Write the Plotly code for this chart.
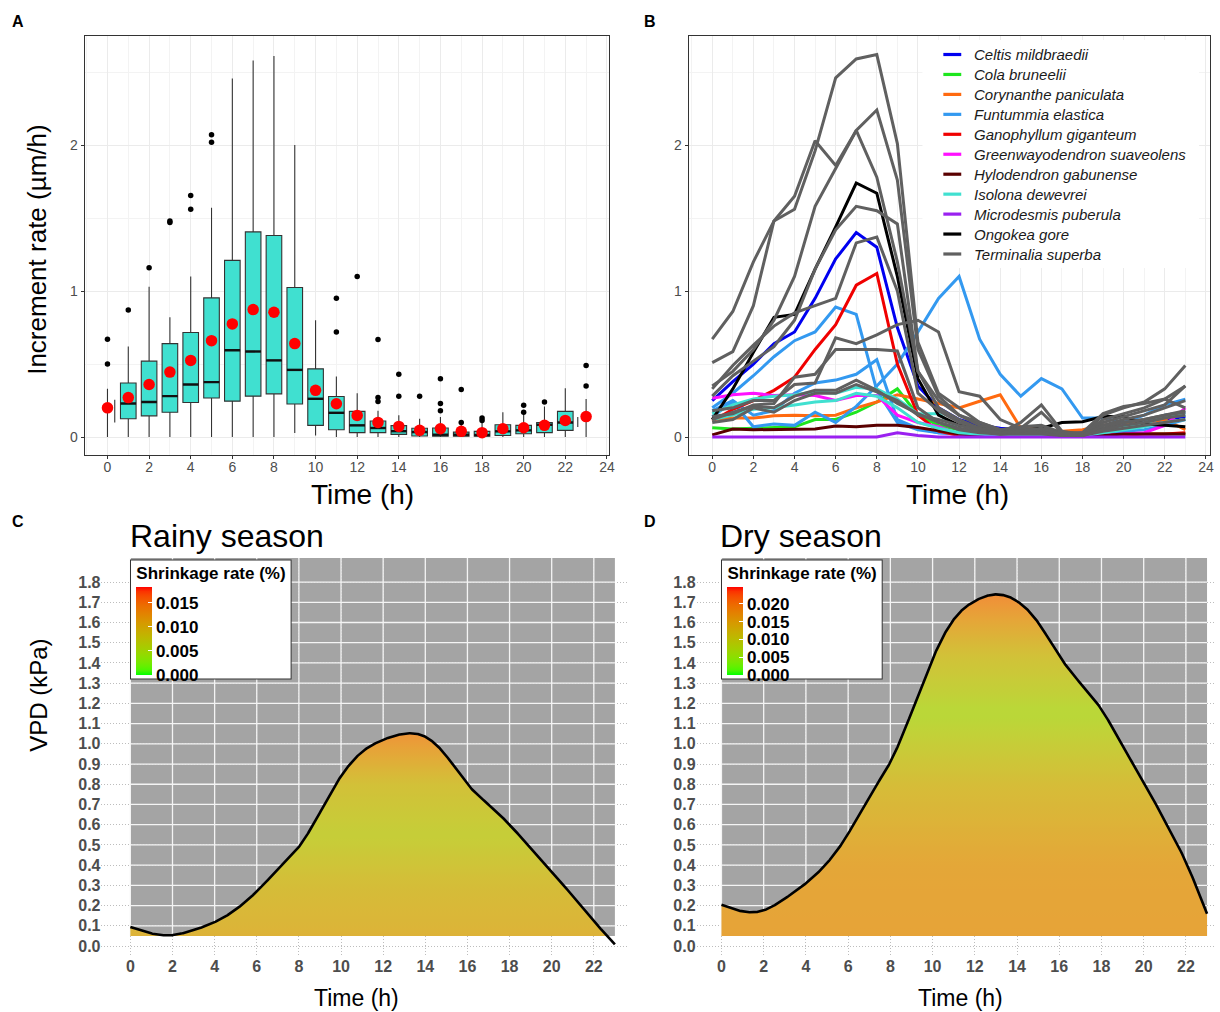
import numpy as np
import plotly.graph_objects as go

W, H = 1220, 1012
FONT = "Liberation Sans, Arial, Helvetica, sans-serif"

# ====================== Panel A : boxplots ======================
hours = list(range(24))
box_hours = list(range(1, 23))
box_q1 = [0.125, 0.145, 0.17, 0.237, 0.267, 0.246, 0.28, 0.296, 0.226, 0.08, 0.05, 0.03,
          0.03, 0.018, 0.007, 0.005, 0.005, 0.005, 0.011, 0.023, 0.03, 0.046]
box_median = [0.23, 0.24, 0.28, 0.36, 0.376, 0.595, 0.586, 0.525, 0.46, 0.262, 0.166, 0.08,
              0.062, 0.04, 0.034, 0.016, 0.016, 0.014, 0.039, 0.046, 0.084, 0.10]
box_q3 = [0.37, 0.52, 0.64, 0.716, 0.953, 1.21, 1.405, 1.38, 1.024, 0.467, 0.278, 0.176,
          0.11, 0.078, 0.06, 0.062, 0.034, 0.039, 0.084, 0.08, 0.10, 0.176]
box_low = [0, 0, 0, 0, 0, 0, 0, 0, 0.027, 0.011, 0, 0, 0, 0, 0, 0, 0, 0, 0, 0, 0, 0]
box_high = [0.62, 1.03, 0.82, 1.10, 1.57, 2.456, 2.58, 2.61, 2.0, 0.80, 0.415, 0.30,
            0.18, 0.15, 0.125, 0.137, 0.10, 0.11, 0.17, 0.16, 0.21, 0.335]
hour_means = [0.20, 0.27, 0.36, 0.445, 0.525, 0.66, 0.775, 0.873, 0.855, 0.64, 0.32, 0.228,
              0.148, 0.10, 0.073, 0.046, 0.057, 0.039, 0.03, 0.057, 0.064, 0.08, 0.114, 0.14]
out_hours = [0, 0, 1, 2, 3, 3, 4, 4, 5, 5, 11, 11, 12, 13, 13, 13, 14, 14, 15, 16, 16, 16,
             17, 17, 18, 18, 20, 20, 21, 23, 23]
out_values = [0.67, 0.50, 0.87, 1.16, 1.48, 1.47, 1.655, 1.56, 2.07, 2.02, 0.95, 0.72, 1.10,
              0.668, 0.27, 0.244, 0.43, 0.28, 0.28, 0.40, 0.23, 0.18, 0.326, 0.10, 0.13,
              0.114, 0.217, 0.17, 0.24, 0.49, 0.35]
# hours 0 and 23: collapsed boxes
edge_hours = [0, 23]
edge_low = [0.0, 0.0]
edge_high = [0.33, 0.26]
edge_q1 = [0.10, 0.068]
edge_q3 = [0.255, 0.137]

# ====================== Panel B : species lines ======================
celtis = [0.25, 0.38, 0.50, 0.64, 0.72, 0.95, 1.22, 1.40, 1.30, 0.75, 0.35, 0.20, 0.12, 0.08,
          0.06, 0.05, 0.04, 0.03, 0.03, 0.05, 0.08, 0.10, 0.12, 0.14]
cola = [0.064, 0.055, 0.06, 0.065, 0.07, 0.12, 0.12, 0.17, 0.24, 0.33, 0.15, 0.08, 0.05, 0.03,
        0.02, 0.02, 0.01, 0.01, 0.01, 0.01, 0.02, 0.02, 0.02, 0.02]
corynanthe = [0.12, 0.13, 0.13, 0.145, 0.15, 0.145, 0.15, 0.20, 0.24, 0.29, 0.26, 0.23, 0.20,
              0.245, 0.29, 0.06, 0.05, 0.04, 0.05, 0.08, 0.10, 0.10, 0.12, 0.05]
funtummia_1 = [0.20, 0.30, 0.42, 0.55, 0.66, 0.72, 0.89, 0.84, 0.32, 0.10, 0.05, 0.03, 0.02,
               0.02, 0.02, 0.01, 0.01, 0.01, 0.02, 0.05, 0.07, 0.10, 0.15, 0.17]
funtummia_2 = [0.18, 0.25, 0.15, 0.18, 0.30, 0.37, 0.39, 0.43, 0.53, 0.12, 0.06, 0.03, 0.02,
               0.02, 0.01, 0.01, 0.01, 0.01, 0.01, 0.03, 0.04, 0.05, 0.08, 0.12]
funtummia_3 = [0.14, 0.24, 0.07, 0.09, 0.08, 0.17, 0.10, 0.21, 0.35, 0.50, 0.72, 0.95, 1.10,
               0.67, 0.43, 0.28, 0.40, 0.33, 0.13, 0.13, 0.10, 0.15, 0.22, 0.26]
ganophyllum = [0.11, 0.19, 0.25, 0.32, 0.41, 0.60, 0.77, 1.04, 1.12, 0.50, 0.15, 0.04, 0.01,
               0.01, 0.01, 0.01, 0.01, 0.01, 0.01, 0.01, 0.01, 0.02, 0.02, 0.03]
greenwayodendron = [0.265, 0.29, 0.30, 0.285, 0.29, 0.285, 0.25, 0.285, 0.285, 0.15, 0.10,
                    0.07, 0.02, 0.01, 0.01, 0.01, 0.01, 0.01, 0.01, 0.01, 0.02, 0.03, 0.08, 0.20]
hylodendron = [0.015, 0.055, 0.05, 0.05, 0.05, 0.055, 0.075, 0.07, 0.08, 0.08, 0.065, 0.04,
               0.02, 0.01, 0.01, 0.01, 0.01, 0.01, 0.01, 0.01, 0.02, 0.02, 0.02, 0.02]
isolona_1 = [0.16, 0.22, 0.26, 0.28, 0.29, 0.31, 0.30, 0.34, 0.33, 0.26, 0.16, 0.16, 0.05,
             0.03, 0.02, 0.02, 0.02, 0.01, 0.01, 0.03, 0.05, 0.07, 0.10, 0.12]
isolona_2 = [0.12, 0.15, 0.19, 0.20, 0.22, 0.24, 0.25, 0.30, 0.28, 0.20, 0.10, 0.06, 0.03,
             0.02, 0.01, 0.01, 0.01, 0.01, 0.02, 0.06, 0.07, 0.09, 0.14, 0.15]
microdesmis = [0.0, 0.0, 0.0, 0.0, 0.0, 0.0, 0.005, 0.0, 0.0, 0.03, 0.01, 0.0, 0.0, 0.0, 0.0,
               0.0, 0.0, 0.0, 0.0, 0.0, 0.0, 0.0, 0.0, 0.0]
ongokea = [0.12, 0.33, 0.58, 0.82, 0.84, 1.15, 1.44, 1.74, 1.67, 1.10, 0.40, 0.15, 0.08, 0.06,
           0.05, 0.05, 0.06, 0.10, 0.105, 0.14, 0.14, 0.09, 0.08, 0.07]
terminalia_1 = [0.67, 0.86, 1.20, 1.48, 1.56, 1.96, 2.46, 2.59, 2.62, 2.01, 0.65, 0.30, 0.20,
                0.10, 0.05, 0.07, 0.08, 0.03, 0.02, 0.08, 0.12, 0.15, 0.20, 0.25]
terminalia_2 = [0.35, 0.45, 0.60, 0.80, 1.10, 1.58, 1.84, 2.10, 2.24, 1.76, 0.60, 0.28, 0.15,
                0.08, 0.04, 0.05, 0.05, 0.02, 0.02, 0.10, 0.14, 0.18, 0.22, 0.35]
terminalia_3 = [0.51, 0.585, 0.90, 1.48, 1.65, 2.03, 1.86, 2.10, 1.78, 1.20, 0.45, 0.20, 0.12,
                0.06, 0.03, 0.10, 0.22, 0.04, 0.02, 0.15, 0.20, 0.24, 0.33, 0.49]
terminalia_4 = [0.28, 0.42, 0.52, 0.62, 0.80, 1.15, 1.42, 1.58, 1.55, 1.46, 0.45, 0.25, 0.15,
                0.10, 0.05, 0.06, 0.17, 0.03, 0.02, 0.12, 0.16, 0.20, 0.26, 0.20]
terminalia_5 = [0.33, 0.49, 0.63, 0.76, 0.85, 0.90, 0.95, 1.33, 1.37, 1.00, 0.30, 0.18, 0.10,
                0.06, 0.03, 0.04, 0.05, 0.02, 0.02, 0.06, 0.10, 0.12, 0.15, 0.18]
terminalia_6 = [0.14, 0.16, 0.22, 0.23, 0.41, 0.43, 0.60, 0.60, 0.60, 0.59, 0.20, 0.10, 0.06,
                0.04, 0.02, 0.03, 0.04, 0.01, 0.01, 0.04, 0.06, 0.08, 0.10, 0.12]
terminalia_7 = [0.18, 0.20, 0.25, 0.25, 0.36, 0.37, 0.68, 0.64, 0.70, 0.77, 0.80, 0.72, 0.31,
                0.28, 0.12, 0.06, 0.05, 0.03, 0.03, 0.16, 0.21, 0.23, 0.26, 0.35]
terminalia_8 = [0.12, 0.17, 0.21, 0.20, 0.28, 0.32, 0.32, 0.39, 0.32, 0.23, 0.16, 0.10, 0.05,
                0.03, 0.02, 0.02, 0.02, 0.01, 0.01, 0.05, 0.08, 0.10, 0.13, 0.15]
terminalia_9 = [0.10, 0.12, 0.20, 0.17, 0.25, 0.30, 0.30, 0.36, 0.31, 0.25, 0.15, 0.12, 0.08,
                0.05, 0.03, 0.04, 0.06, 0.02, 0.01, 0.08, 0.10, 0.12, 0.15, 0.17]

species = ["Celtis mildbraedii", "Cola bruneelii", "Corynanthe paniculata", "Funtummia elastica",
           "Ganophyllum giganteum", "Greenwayodendron suaveolens", "Hylodendron gabunense",
           "Isolona dewevrei", "Microdesmis puberula", "Ongokea gore", "Terminalia superba"]
species_colors = ["#0000F0", "#1EE61E", "#FF6A10", "#3399F0", "#F00000", "#FF10FF", "#5A0000",
                  "#40E0D0", "#9A20F0", "#000000", "#606060"]
species_lines = [[celtis], [cola], [corynanthe], [funtummia_1, funtummia_2, funtummia_3],
                 [ganophyllum], [greenwayodendron], [hylodendron], [isolona_1, isolona_2],
                 [microdesmis], [ongokea],
                 [terminalia_1, terminalia_2, terminalia_3, terminalia_4, terminalia_5,
                  terminalia_6, terminalia_7, terminalia_8, terminalia_9]]

# ====================== Panels C & D : VPD ======================
vpd_rainy = [0.094, 0.062, 0.054, 0.079, 0.118, 0.18, 0.27, 0.378, 0.49, 0.66, 0.84, 0.96,
             1.02, 1.05, 1.035, 0.94, 0.80, 0.70, 0.60, 0.485, 0.37, 0.246, 0.123, 0.008]
vpd_dry = [0.204, 0.171, 0.176, 0.234, 0.31, 0.41, 0.555, 0.74, 0.91, 1.155, 1.42, 1.615,
           1.706, 1.739, 1.706, 1.60, 1.435, 1.30, 1.17, 0.99, 0.81, 0.62, 0.415, 0.16]
rainy_vpd_knots = [0.05, 0.30, 0.55, 0.80, 1.05]
rainy_rate_knots = [0.0105, 0.0092, 0.0070, 0.0088, 0.0138]
dry_vpd_knots = [0.05, 0.40, 0.80, 1.15, 1.45, 1.74]
dry_rate_knots = [0.0165, 0.0160, 0.0125, 0.0075, 0.0120, 0.0195]
rainy_rate_max = 0.0183
dry_rate_max = 0.0247
rainy_cb_ticks = [0.000, 0.005, 0.010, 0.015]
dry_cb_ticks = [0.000, 0.005, 0.010, 0.015, 0.020]
cd_yticks = [round(0.1 * i, 1) for i in range(19)]
cd_xticks = list(range(0, 23, 2))

# ---------------------------------------------------------------
def dom_x(a, b):
    return [a / W, b / W]


def dom_y(top, bottom):
    return [1 - bottom / H, 1 - top / H]


M_RGB2XYZ = np.array([[0.4124564, 0.3575761, 0.1804375],
                      [0.2126729, 0.7151522, 0.0721750],
                      [0.0193339, 0.1191920, 0.9503041]])
WHITE = np.array([0.95047, 1.0, 1.08883])


def rgb2lab(rgb):
    c = np.array(rgb, float) / 255.0
    c = np.where(c <= 0.04045, c / 12.92, ((c + 0.055) / 1.055) ** 2.4)
    xyz = M_RGB2XYZ @ c / WHITE
    d = 6 / 29
    f = np.where(xyz > d ** 3, np.cbrt(xyz), xyz / (3 * d * d) + 4 / 29)
    return np.array([116 * f[1] - 16, 500 * (f[0] - f[1]), 200 * (f[1] - f[2])])


def lab2rgb(lab):
    L, a, b = lab
    fy = (L + 16) / 116
    f = np.array([fy + a / 500, fy, fy - b / 200])
    d = 6 / 29
    xyz = np.where(f > d, f ** 3, 3 * d * d * (f - 4 / 29)) * WHITE
    c = np.linalg.inv(M_RGB2XYZ) @ xyz
    c = np.clip(c, 0, 1)
    c = np.where(c <= 0.0031308, 12.92 * c, 1.055 * c ** (1 / 2.4) - 0.055)
    return np.clip(c * 255, 0, 255)


LAB_LOW = rgb2lab([0, 255, 0])
LAB_HIGH = rgb2lab([255, 0, 0])


def grad_color(t, lighten=0.0):
    t = float(np.clip(t, 0, 1))
    rgb = lab2rgb(LAB_LOW + t * (LAB_HIGH - LAB_LOW))
    rgb = rgb * (1 - lighten) + 255 * lighten
    return "rgb(%d,%d,%d)" % tuple(np.round(rgb).astype(int))


CB_SCALE = [[t, grad_color(t)] for t in np.linspace(0, 1, 21)]


def nat_spline(xk, yk, xs):
    xk = np.asarray(xk, float)
    yk = np.asarray(yk, float)
    n = len(xk)
    h = np.diff(xk)
    A = np.zeros((n, n))
    r = np.zeros(n)
    A[0, 0] = A[-1, -1] = 1
    for i in range(1, n - 1):
        A[i, i - 1] = h[i - 1]
        A[i, i] = 2 * (h[i - 1] + h[i])
        A[i, i + 1] = h[i]
        r[i] = 3 * ((yk[i + 1] - yk[i]) / h[i] - (yk[i] - yk[i - 1]) / h[i - 1])
    c = np.linalg.solve(A, r)
    b = (yk[1:] - yk[:-1]) / h - h * (2 * c[:-1] + c[1:]) / 3
    d = (c[1:] - c[:-1]) / (3 * h)
    idx = np.clip(np.searchsorted(xk, xs, side="right") - 1, 0, n - 2)
    dx = xs - xk[idx]
    return yk[idx] + b[idx] * dx + c[idx] * dx ** 2 + d[idx] * dx ** 3


fig = go.Figure()

# ---------------- Panel A traces ----------------
BOX_W = 0.75
fig.add_trace(go.Box(
    x=box_hours, q1=box_q1, median=box_median, q3=box_q3,
    lowerfence=box_low, upperfence=box_high, width=BOX_W,
    boxpoints=False, whiskerwidth=0, fillcolor="#40E0D0",
    line=dict(color="#333333", width=1.1), xaxis="x", yaxis="y",
    showlegend=False, hoverinfo="skip"))
mx, my = [], []
for h, m in zip(box_hours, box_median):
    mx += [h - BOX_W / 2, h + BOX_W / 2, None]
    my += [m, m, None]
fig.add_trace(go.Scatter(x=mx, y=my, mode="lines", line=dict(color="#111111", width=2.4),
                         xaxis="x", yaxis="y", showlegend=False, hoverinfo="skip"))
EDGE_SHIFT = [0.35, -0.4]
ex, ey = [], []
for h, lo, hi, q1, q3, s in zip(edge_hours, edge_low, edge_high, edge_q1, edge_q3, EDGE_SHIFT):
    ex += [h, h, None, h + s, h + s, None]
    ey += [lo, hi, None, q1, q3, None]
fig.add_trace(go.Scatter(x=ex, y=ey, mode="lines", line=dict(color="#333333", width=1.1),
                         xaxis="x", yaxis="y", showlegend=False, hoverinfo="skip"))
fig.add_trace(go.Scatter(x=out_hours, y=out_values, mode="markers",
                         marker=dict(color="black", size=5.5),
                         xaxis="x", yaxis="y", showlegend=False, hoverinfo="skip"))
fig.add_trace(go.Scatter(x=hours, y=hour_means, mode="markers",
                         marker=dict(color="#FF0000", size=11.5),
                         xaxis="x", yaxis="y", showlegend=False, hoverinfo="skip"))

# ---------------- Panel B traces ----------------
for name, col, lines in zip(species, species_colors, species_lines):
    for vals in lines:
        fig.add_trace(go.Scatter(x=hours, y=vals, mode="lines", name=name,
                                 line=dict(color=col, width=3),
                                 xaxis="x2", yaxis="y2", showlegend=False, hoverinfo="skip"))

# ---------------- Panels C & D traces ----------------
BASE = 0.05
CD_YRANGE = [-0.0445, 1.919]
xf = np.linspace(hours[0], hours[-1], 921)


def add_vpd_panel(xa, ya, vpd, knots, rates, rmax, cax):
    top = CD_YRANGE[1]
    # white grid inside grey panel
    gx, gy = [], []
    for v in cd_yticks:
        if v >= BASE:
            gx += [hours[0], hours[-1], None]
            gy += [v, v, None]
    for hx in cd_xticks:
        gx += [hx, hx, None]
        gy += [BASE, top, None]
    fig.add_trace(go.Scatter(x=gx, y=gy, mode="lines", line=dict(color="#F4F4F4", width=1.3),
                             xaxis=xa, yaxis=ya, showlegend=False, hoverinfo="skip"))
    curve = nat_spline(hours, vpd, xf)
    yfill = np.maximum(curve, BASE)
    stop = float(yfill.max())
    levels = np.linspace(BASE, stop, 40)
    lv_rates = np.interp(levels, knots, rates)
    gscale = [[float((lv - BASE) / (stop - BASE)), grad_color(rt / rmax, 0.22)]
              for lv, rt in zip(levels, lv_rates)]
    gscale[0][0] = 0.0
    gscale[-1][0] = 1.0
    fig.add_trace(go.Scatter(
        x=np.concatenate([xf, xf[::-1]]),
        y=np.concatenate([yfill, np.full_like(xf, BASE)]),
        mode="none", fill="toself",
        fillgradient=dict(type="vertical", start=BASE, stop=stop, colorscale=gscale),
        xaxis=xa, yaxis=ya, showlegend=False, hoverinfo="skip"))
    fig.add_trace(go.Scatter(x=xf, y=curve, mode="lines", line=dict(color="black", width=2.6),
                             xaxis=xa, yaxis=ya, showlegend=False, hoverinfo="skip"))
    # invisible markers carrying the colour scale (for the colour bar)
    fig.add_trace(go.Scatter(x=hours, y=vpd, mode="markers",
                             marker=dict(size=1, opacity=0, color=np.interp(vpd, knots, rates),
                                         coloraxis=cax),
                             xaxis=xa, yaxis=ya, showlegend=False, hoverinfo="skip"))


add_vpd_panel("x3", "y3", vpd_rainy, rainy_vpd_knots, rainy_rate_knots, rainy_rate_max, "coloraxis")
add_vpd_panel("x4", "y4", vpd_dry, dry_vpd_knots, dry_rate_knots, dry_rate_max, "coloraxis2")

# ---------------- Layout ----------------
tick_font_ab = dict(family=FONT, size=14, color="#4D4D4D")
common_ab_x = dict(tick0=0, dtick=2, showgrid=True, gridcolor="#EBEBEB", gridwidth=1,
                   minor=dict(dtick=1, showgrid=True, gridcolor="#F3F3F3", gridwidth=1),
                   showline=True, mirror=True, linecolor="#333333", linewidth=1,
                   ticks="outside", ticklen=3, tickcolor="#333333", tickfont=tick_font_ab,
                   ticklabelstandoff=-4, zeroline=False)
common_ab_y = dict(tick0=0, dtick=1, range=[-0.123, 2.747], showgrid=True, gridcolor="#EBEBEB",
                   gridwidth=1,
                   minor=dict(dtick=0.5, showgrid=True, gridcolor="#F3F3F3", gridwidth=1),
                   showline=True, mirror=True, linecolor="#333333", linewidth=1,
                   ticks="outside", ticklen=3, tickcolor="#333333", tickfont=tick_font_ab,
                   zeroline=False)
tick_font_cd = dict(family=FONT, size=16, color="#4D4D4D", weight="bold")
common_cd_x = dict(tickvals=cd_xticks, showgrid=True, gridcolor="#BDBDBD", gridwidth=1,
                   griddash="1px,2px", showline=False, ticks="", zeroline=False,
                   tickfont=tick_font_cd)
common_cd_y = dict(tickvals=cd_yticks, tickformat=".1f", range=CD_YRANGE, showgrid=True,
                   gridcolor="#BDBDBD", gridwidth=1, griddash="1px,2px", showline=False,
                   ticks="", zeroline=False, tickfont=tick_font_cd)


def colorbar(x_px, ticks):
    return dict(
        title=dict(text="<b>Shrinkage rate (%)</b>", side="top",
                   font=dict(family=FONT, size=17, color="black")),
        x=x_px / W, xanchor="left", y=1 - 560 / H, yanchor="top",
        len=118, lenmode="pixels", thickness=16, thicknessmode="pixels",
        xpad=5, ypad=3, bgcolor="white", bordercolor="#333333", borderwidth=1,
        outlinewidth=0, tickvals=ticks, ticktext=["%.3f" % t for t in ticks],
        tickfont=dict(family=FONT, size=17, color="black", weight="bold"),
        ticks="inside", tickcolor="white", ticklen=4, tickwidth=1)


GREY = "#A4A4A4"
shapes = [
    dict(type="rect", xref="x3", yref="y3", x0=hours[0], x1=hours[-1], y0=BASE,
         y1=CD_YRANGE[1], fillcolor=GREY, line=dict(width=0), layer="below"),
    dict(type="rect", xref="x4", yref="y4", x0=hours[0], x1=hours[-1], y0=BASE,
         y1=CD_YRANGE[1], fillcolor=GREY, line=dict(width=0), layer="below"),
    # legend background for panel B
    dict(type="rect", xref="paper", yref="paper", x0=927 / W, x1=1205 / W,
         y0=1 - 268 / H, y1=1 - 40 / H, fillcolor="white", line=dict(width=0), layer="above"),
]
annotations = []
LEG_X0, LEG_Y0, LEG_DY = 948, 54.5, 19.95
for i, (name, col) in enumerate(zip(species, species_colors)):
    yy = 1 - (LEG_Y0 + i * LEG_DY) / H
    shapes.append(dict(type="line", xref="paper", yref="paper", x0=LEG_X0 / W,
                       x1=(LEG_X0 + 18) / W, y0=yy, y1=yy, line=dict(color=col, width=3.2),
                       layer="above"))
    annotations.append(dict(text="<i>%s</i>" % name, xref="paper", yref="paper",
                            x=(LEG_X0 + 29) / W, y=yy, xanchor="left", yanchor="middle",
                            showarrow=False, font=dict(family=FONT, size=15, color="#1A1A1A")))


def label(text, xp, yp, size, bold=False, angle=0, anchor="center"):
    annotations.append(dict(text="<b>%s</b>" % text if bold else text, xref="paper",
                            yref="paper", x=xp / W, y=1 - yp / H, xanchor=anchor,
                            yanchor="middle", showarrow=False, textangle=angle,
                            font=dict(family=FONT, size=size, color="black")))


label("A", 18, 22, 16, bold=True)
label("B", 653, 22, 16, bold=True)
label("C", 18, 521, 16, bold=True)
label("D", 653, 521, 16, bold=True)
label("Time (h)", 364, 494, 28)
label("Time (h)", 962, 494, 28)
label("Increment rate (µm/h)", 37, 249, 26, angle=-90)
label("Time (h)", 358, 998, 23)
label("Time (h)", 965, 998, 23)
label("VPD (kPa)", 38, 695, 24, angle=-90)
label("Rainy season", 129, 536, 32, anchor="left")
label("Dry season", 722, 536, 32, anchor="left")

fig.update_layout(
    width=W, height=H, margin=dict(l=0, r=0, t=0, b=0),
    paper_bgcolor="white", plot_bgcolor="white", showlegend=False,
    font=dict(family=FONT),
    xaxis=dict(domain=dom_x(85, 612), range=[-1.1, 24.1], anchor="y", **common_ab_x),
    yaxis=dict(domain=dom_y(36, 455), anchor="x", **common_ab_y),
    xaxis2=dict(domain=dom_x(692, 1216), range=[-1.15, 24.2], anchor="y2", **common_ab_x),
    yaxis2=dict(domain=dom_y(36, 455), anchor="x2", **common_ab_y),
    xaxis3=dict(domain=dom_x(102, 630), range=[-1.37, 23.57], anchor="y3", **common_cd_x),
    yaxis3=dict(domain=dom_y(558, 955), anchor="x3", **common_cd_y),
    xaxis4=dict(domain=dom_x(700, 1220), range=[-1.18, 23.33], anchor="y4", **common_cd_x),
    yaxis4=dict(domain=dom_y(558, 955), anchor="x4", **common_cd_y),
    coloraxis=dict(cmin=0, cmax=rainy_rate_max, colorscale=CB_SCALE,
                   colorbar=colorbar(132, rainy_cb_ticks)),
    coloraxis2=dict(cmin=0, cmax=dry_rate_max, colorscale=CB_SCALE,
                    colorbar=colorbar(726, dry_cb_ticks)),
    shapes=shapes, annotations=annotations,
)

fig.write_html(
    "out.html",
    config={"displayModeBar": False},
    post_script="document.body.style.margin='0px';document.body.style.padding='0px';"
                "document.body.style.overflow='hidden';",
)
